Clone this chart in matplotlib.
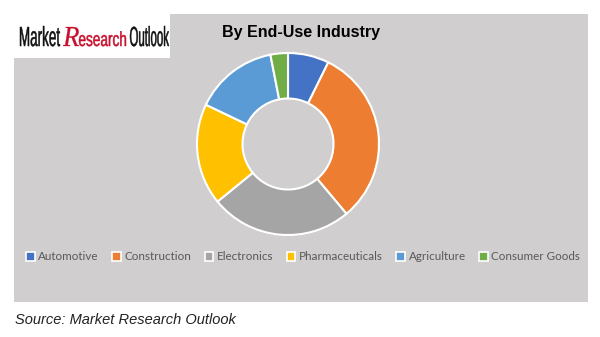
import matplotlib
matplotlib.use("Agg")
import matplotlib.pyplot as plt
from matplotlib.patches import Rectangle, Patch, PathPatch
from matplotlib.textpath import TextPath
from matplotlib.font_manager import FontProperties
from matplotlib.transforms import Affine2D

# share of market by end-use industry (%)
industries = ["Automotive", "Construction", "Electronics",
              "Pharmaceuticals", "Agriculture", "Consumer Goods"]
shares = [7.3, 31.6, 25.2, 18.0, 14.8, 3.1]
colors = ["#4472C4", "#ED7D31", "#A5A5A5", "#FFC000", "#5B9BD5", "#70AD47"]

W, H = 600, 337
fig = plt.figure(figsize=(W / 100, H / 100), dpi=100)
fig.patch.set_facecolor("white")

def fx(px):
    return px / W

def fy(py):
    return 1 - py / H

# grey chart area
fig.patches.append(Rectangle((fx(14), fy(302)), fx(588) - fx(14), fy(14) - fy(302),
                             transform=fig.transFigure, facecolor="#D0CECE",
                             edgecolor="none", zorder=0))
# logo box
fig.patches.append(Rectangle((0, fy(58)), fx(170), 1 - fy(58),
                             transform=fig.transFigure, facecolor="white",
                             edgecolor="none", zorder=1))


def logo_word(text, x0, x1, base, cap, color, prop, lw=0.35):
    # squeeze the glyph outlines into the box [x0, x1] sitting on `base`
    tp = TextPath((0, 0), text, size=1, prop=prop)
    ext = tp.get_extents()
    m = TextPath((0, 0), "M", size=1, prop=prop).get_extents()
    sx = (x1 - x0) / ext.width
    sy = cap / m.height
    tr = (Affine2D().translate(-ext.x0, 0).scale(sx / W, sy / H)
          .translate(fx(x0), fy(base)) + fig.transFigure)
    fig.patches.append(PathPatch(tp, transform=tr, facecolor=color,
                                 edgecolor=color, linewidth=lw, zorder=3))


sans = FontProperties(family="Liberation Sans")
script = FontProperties(family="Liberation Serif", style="italic")
logo_word("Market", 20, 60, 46, 19, "#111111", sans)
logo_word("R", 63, 79, 46, 19, "#C8102E", script, lw=0.2)
logo_word("esearch", 79, 126, 46, 14, "#C8102E", sans)
logo_word("Outlook", 130, 169, 46, 19, "#111111", sans)

# donut
cx, cy, r = 288, 144, 91
ax = fig.add_axes([fx(cx - r), fy(cy + r), 2 * r / W, 2 * r / H])
ax.set_zorder(2)
ax.set_facecolor("none")
ax.pie(shares, colors=colors, startangle=90, counterclock=False, radius=1.0,
       wedgeprops=dict(width=0.5, edgecolor="white", linewidth=1.5))
ax.set_xlim(-1.0, 1.0)
ax.set_ylim(-1.0, 1.0)
ax.set_aspect("equal")
ax.axis("off")

fig.text(fx(301), fy(33), "By End-Use Industry", ha="center", va="center",
         fontsize=11.5, fontweight="bold", family="Liberation Sans",
         color="black", zorder=3)

handles = [Patch(facecolor=c, edgecolor="white", linewidth=1.2) for c in colors]
leg = fig.legend(handles, industries, loc="center", ncol=6,
                 bbox_to_anchor=(fx(303), fy(257)), frameon=False,
                 prop=dict(family="Lato", size=8.4), handlelength=0.75,
                 handleheight=0.75, handletextpad=0.3, columnspacing=1.15)
leg.set_zorder(3)
for t in leg.get_texts():
    t.set_color("#595959")

fig.text(fx(15), fy(320), "Source: Market Research Outlook", ha="left",
         va="center", fontsize=10.5, style="italic", family="Liberation Sans",
         color="#222222")

fig.savefig("out.png", dpi=100)
